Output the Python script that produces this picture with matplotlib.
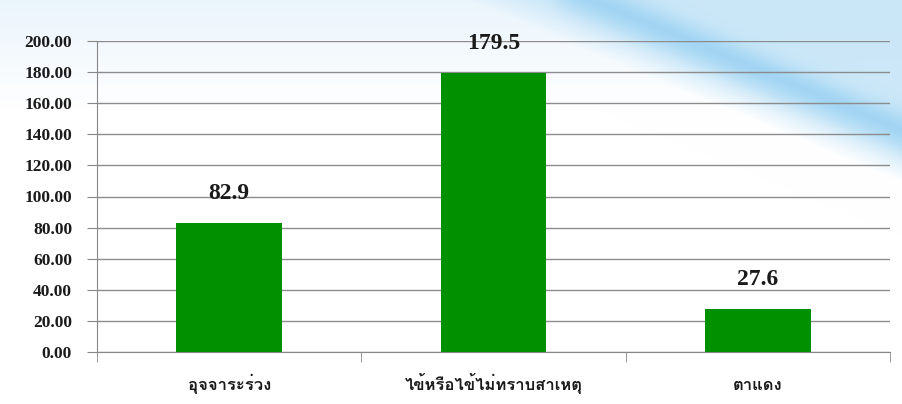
import matplotlib
matplotlib.use("Agg")
import matplotlib.pyplot as plt
import numpy as np
from matplotlib import font_manager
from matplotlib.ft2font import FT2Font

categories = ["อุจจาระร่วง", "ไข้หรือไข้ไม่ทราบสาเหตุ", "ตาแดง"]
values = [82.9, 179.5, 27.6]
yticks = [0, 20, 40, 60, 80, 100, 120, 140, 160, 180, 200]

#_____________________________________________________________________________
def find_thai_font():

    #installed fonts that have Thai glyphs
    names = []
    for f in font_manager.fontManager.ttflist:
        try:
            cmap = FT2Font(f.fname).get_charmap()
        except Exception:
            continue
        if 0x0E2D in cmap and 0x0E08 in cmap:
            names.append(f.name)
    return names

#find_thai_font

#_____________________________________________________________________________
def background(w, h):

    #white page with a pale top and a blue swoosh in the upper right
    xx, yy = np.meshgrid(np.arange(w), np.arange(h))
    img = np.ones((h, w, 3))

    top = np.array([0.92, 0.96, 0.99])
    ft = np.clip(1 - yy/110., 0, 1)[..., None]
    img = img*(1 - ft) + top*ft

    #distance above the swoosh edge
    d = (xx - 550)*0.42 - yy
    light = np.array([0.78, 0.90, 0.97])
    dark = np.array([0.60, 0.82, 0.95])
    fa = np.clip((d + 35)/35., 0, 1)[..., None]
    img = img*(1 - 0.9*fa) + light*0.9*fa
    band = np.exp(-((d - 18)/18.)**2)*np.clip((xx - 540)/30., 0, 1)
    band = band[..., None]
    img = img*(1 - 0.8*band) + dark*0.8*band
    return np.clip(img, 0, 1)

#background

#_____________________________________________________________________________
def main():

    thai = find_thai_font()
    thai_fam = thai[:1] + ["DejaVu Sans"]

    fig = plt.figure(figsize=(9.02, 4.04), dpi=100)
    fig.patch.set_facecolor("white")

    bg = fig.add_axes([0, 0, 1, 1], zorder=-1)
    bg.imshow(background(902, 404), aspect="auto", interpolation="bilinear")
    bg.axis("off")

    ax = fig.add_axes([97/902, 1-352/404, (890-97)/902, (352-41)/404])
    ax.patch.set_alpha(0)

    xs = list(range(len(categories)))
    ax.bar(xs, values, width=0.4, color="#009000", zorder=3)

    for x, v in zip(xs, values):
        ax.annotate("{0:.1f}".format(v), (x, v), xytext=(0, 21), textcoords="offset points",
                    ha="center", va="center", fontsize=17, fontweight="bold",
                    family="Liberation Serif", color="#1a1a1a", zorder=4)

    ax.set_xlim(-0.5, 2.5)
    ax.set_ylim(0, 200)
    ax.set_yticks(yticks)
    ax.set_yticklabels(["{0:.2f}".format(t) for t in yticks], fontsize=12.5, fontweight="bold",
                       family="Liberation Serif", color="#1a1a1a")

    ax.set_xticks(xs)
    ax.set_xticklabels(categories, fontsize=12, fontweight="bold", family=thai_fam,
                       color="#1a1a1a", va="baseline")
    ax.set_xticks([-0.5, 0.5, 1.5, 2.5], minor=True)
    ax.tick_params(axis="x", which="major", length=0, pad=27)
    ax.tick_params(axis="x", which="minor", length=7, color="#888888", direction="out")
    ax.tick_params(axis="y", length=7, color="#888888", pad=11)

    ax.grid(True, axis="y", color="#8c8c8c", lw=1, zorder=0)
    for s in ["top", "right"]:
        ax.spines[s].set_visible(False)
    ax.spines["left"].set_color("#888888")
    ax.spines["bottom"].set_color("#888888")

    fig.savefig("out.png", dpi=100)
    plt.close()

#main

#_____________________________________________________________________________
if __name__ == "__main__":

    main()
